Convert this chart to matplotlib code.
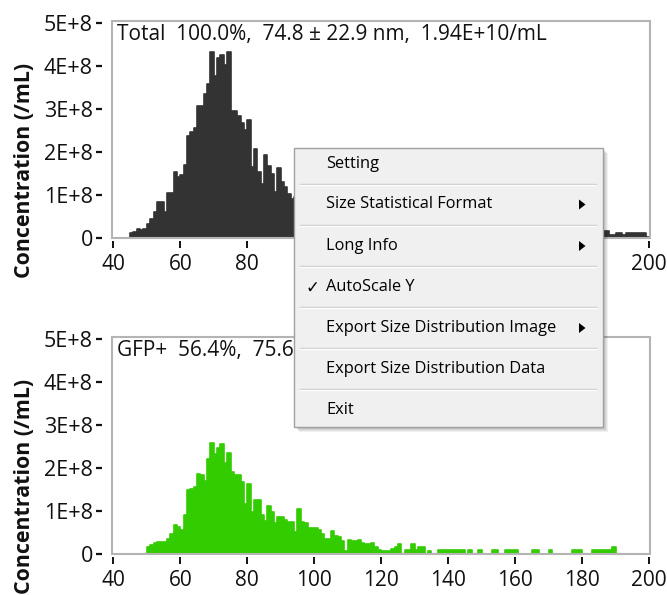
import numpy as np
import matplotlib
matplotlib.use("Agg")
import matplotlib.pyplot as plt
from matplotlib.patches import Rectangle, Polygon

plt.rcParams['font.family'] = ['Open Sans', 'DejaVu Sans']

# size bins (nm), 1 nm wide
bin_edges = np.arange(40, 201)

# concentration per bin, in units of 1E+8 /mL
total_conc = [
    0, 0, 0, 0, 0, 0.1, 0.14, 0.2, 0.17, 0.2,
    0.32, 0.43, 0.6, 0.82, 0.82, 0.59, 1.03, 1.03, 1.52, 1.4,
    1.45, 1.7, 2.36, 2.45, 2.55, 3.07, 3.07, 3.34, 3.57, 4.33,
    3.77, 4.19, 4.26, 4.02, 4.33, 2.94, 2.94, 2.84, 2.66, 2.5,
    2.74, 1.64, 2.06, 1.52, 1.25, 1.91, 1.67, 1.48, 1.05, 1.61,
    1.29, 1.17, 1.02, 0.9, 0.95, 1.3, 1.1, 1.0, 0.9, 0.85,
    0.8, 0.75, 0.65, 0.6, 0.55, 0.7, 0.55, 0.55, 0.5, 0.3,
    0.5, 0.45, 0.45, 0.4, 0.4, 0.35, 0.35, 0.3, 0.28, 0.22,
    0.2, 0.18, 0.18, 0.2, 0.22, 0.25, 0.15, 0.15, 0.14, 0.2,
    0.14, 0.18, 0.15, 0.1, 0.12, 0.1, 0.08, 0.12, 0.1, 0.1,
    0.12, 0.08, 0.1, 0.08, 0.1, 0.08, 0.1, 0.06, 0.08, 0.08,
    0.06, 0.05, 0.06, 0.08, 0.08, 0.05, 0.04, 0.08, 0.08, 0.06,
    0.08, 0.04, 0.05, 0.04, 0.06, 0.08, 0.08, 0.04, 0.03, 0.05,
    0.08, 0.08, 0.04, 0.03, 0.04, 0.05, 0.04, 0.08, 0.08, 0.08,
    0.05, 0.04, 0.04, 0.08, 0.08, 0.08, 0.15, 0.15, 0.05, 0.05,
    0.1, 0.1, 0.05, 0.1, 0.1, 0.1, 0.1, 0.1, 0.1, 0.02,
]

gfp_conc = [
    0, 0, 0, 0, 0, 0, 0, 0, 0, 0,
    0.15, 0.2, 0.24, 0.26, 0.26, 0.26, 0.35, 0.45, 0.67, 0.62,
    0.55, 0.9, 1.47, 1.5, 1.55, 1.86, 1.84, 1.7, 2.2, 2.58,
    2.31, 2.45, 2.54, 2.1, 2.34, 1.9, 1.84, 1.84, 1.66, 1.16,
    1.61, 0.96, 1.25, 1.25, 0.89, 0.76, 1.1, 0.96, 0.71, 0.85,
    0.85, 0.79, 0.74, 0.74, 0.5, 1.03, 0.74, 0.72, 0.59, 0.59,
    0.59, 0.54, 0.45, 0.34, 0.34, 0.52, 0.4, 0.38, 0.3, 0.05,
    0.32, 0.3, 0.29, 0.32, 0.25, 0.23, 0.23, 0.24, 0.16, 0.09,
    0.07, 0.07, 0.07, 0.1, 0.15, 0.22, 0, 0.09, 0.09, 0.22,
    0.09, 0.15, 0.15, 0, 0.07, 0, 0, 0.09, 0.09, 0.09,
    0.09, 0.09, 0.09, 0.09, 0.09, 0, 0.09, 0, 0, 0.09,
    0, 0, 0, 0.09, 0.09, 0, 0, 0.09, 0.09, 0.09,
    0.09, 0, 0, 0, 0, 0.09, 0.09, 0, 0, 0,
    0.09, 0, 0, 0, 0, 0, 0, 0.09, 0.09, 0.09,
    0, 0, 0, 0.09, 0.09, 0.09, 0.09, 0.09, 0.09, 0.16,
    0, 0, 0, 0, 0, 0, 0, 0, 0, 0,
]

panel_labels = ["Total  100.0%,  74.8 \u00b1 22.9 nm,  1.94E+10/mL",
                "GFP+  56.4%,  75.6 \u00b1 20.3 nm,  1.09E+10/mL"]
panel_colors = ["#333333", "#33cc00"]

y_ticks = [0, 1e8, 2e8, 3e8, 4e8, 5e8]
y_tick_labels = ["0", "1E+8", "2E+8", "3E+8", "4E+8", "5E+8"]
x_ticks = [40, 60, 80, 100, 120, 140, 160, 180, 200]

menu_items = ["Setting", "Size Statistical Format", "Long Info", "AutoScale Y",
              "Export Size Distribution Image", "Export Size Distribution Data", "Exit"]
menu_has_arrow = [False, True, True, False, True, False, False]
menu_checked = [False, False, False, True, False, False, False]

W, H = 667, 595
fig = plt.figure(figsize=(W / 100, H / 100), dpi=100)

frame_color = "#b4b4b4"
ax_boxes = [(112, 21, 650, 238), (112, 337, 650, 554)]
series = [total_conc, gfp_conc]

for i, (l, t, r, b) in enumerate(ax_boxes):
    ax = fig.add_axes([l / W, 1 - b / H, (r - l) / W, (b - t) / H])
    vals = np.array(series[i]) * 1e8
    step_y = np.append(vals, vals[-1])
    ax.fill_between(bin_edges, step_y, 0, step='post', color=panel_colors[i], lw=0)
    ax.step(bin_edges, step_y, where='post', color=panel_colors[i], lw=1.2)
    ax.set_xlim(39.6, 200.3)
    ax.set_ylim(-0.01e8, 5.04e8)

    for s in ax.spines.values():
        s.set_visible(False)
    ax.add_patch(Rectangle((0, 0), 1, 1, transform=ax.transAxes, fill=False,
                           edgecolor=frame_color, lw=1.5, clip_on=False, zorder=5))
    ax.spines['left'].set_position(('outward', 7.4))
    ax.spines['bottom'].set_position(('outward', 2))

    ax.set_yticks(y_ticks)
    ax.set_yticklabels(y_tick_labels)
    ax.set_xticks(x_ticks)
    ax.tick_params(axis='y', direction='out', length=4.3, width=1.6, pad=2,
                   labelsize=15.5, colors='#111111')
    ax.tick_params(axis='x', direction='out', length=4.8, width=1.4, pad=4.5,
                   labelsize=15, colors='#111111')

    ax.text(0.009, 0.985, panel_labels[i], transform=ax.transAxes, ha='left', va='top',
            fontsize=15, color='#111111', zorder=6)

    yc = (t + b) / 2 + 41
    fig.text(25 / W, 1 - yc / H, "Concentration (/mL)", rotation=90, ha='center',
             va='center', fontsize=15.4, fontweight='bold', color='#111111')

# context menu overlay
om = fig.add_axes([0, 0, 1, 1], zorder=20)
om.set_xlim(0, W)
om.set_ylim(H, 0)
om.axis('off')
om.patch.set_alpha(0)

mx0, my0, mx1, my1 = 293.5, 147.5, 602.5, 426.5
for k in range(1, 6):
    om.add_patch(Rectangle((mx0 + k, my0 + k), mx1 - mx0, my1 - my0,
                           facecolor='#000000', alpha=0.06, lw=0))
om.add_patch(Rectangle((mx0, my0), mx1 - mx0, my1 - my0, facecolor='#f0f0f0',
                       edgecolor='#a0a0a0', lw=1))

item_y = [164, 204.5, 246, 287, 328, 369, 409.5]
sep_y = [183.5, 224.5, 265.5, 306.5, 347.5, 388.5]
for sy in sep_y:
    om.plot([300, 596], [sy, sy], color='#c8c8c8', lw=1)
    om.plot([300, 596], [sy + 1, sy + 1], color='#ffffff', lw=1)

for name, y, arrow, chk in zip(menu_items, item_y, menu_has_arrow, menu_checked):
    om.text(326.5, y, name, ha='left', va='center', fontsize=11.8, color='#000000')
    if arrow:
        om.add_patch(Polygon([(579, y - 5), (579, y + 5), (585.5, y)], closed=True,
                             facecolor='#000000', lw=0))
    if chk:
        om.text(312, y + 1, "\u2713", ha='center', va='center', fontsize=12,
                family='DejaVu Sans', color='#000000')

fig.savefig("out.png", dpi=100, facecolor='white')
